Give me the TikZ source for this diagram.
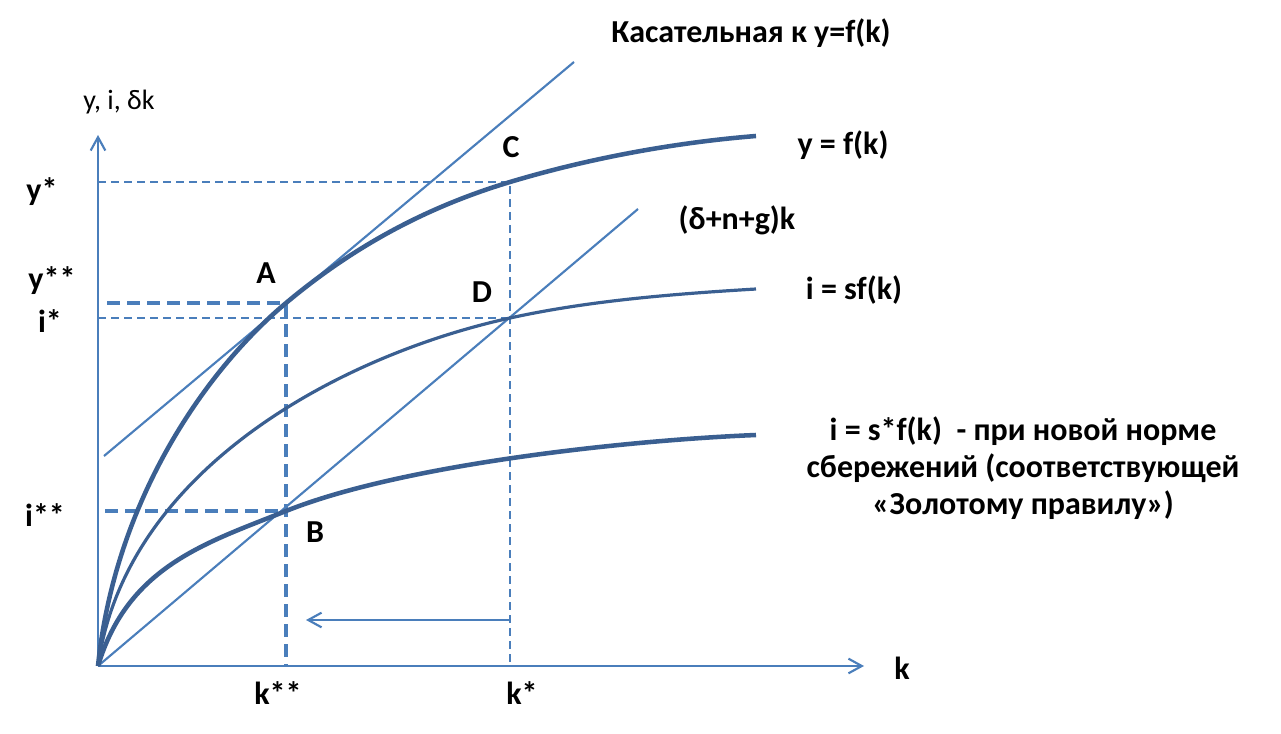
\documentclass[tikz,border=0pt]{standalone}
\usepackage{fontspec}
\setmainfont{Carlito}
\usetikzlibrary{arrows.meta}
\definecolor{axisblue}{RGB}{74,126,187}
\definecolor{curveblue}{RGB}{58,95,145}

\begin{document}
\begin{tikzpicture}[x=0.75pt, y=-0.75pt,
  lbl/.style={font=\fontsize{24}{27.5}\selectfont\bfseries, inner sep=0pt},
  thinline/.style={axisblue, line width=1.6pt},
  gridthin/.style={axisblue, line width=1.3pt, dash pattern=on 6pt off 3.75pt},
  gridthick/.style={axisblue, line width=2.6pt, dash pattern=on 10pt off 5pt},
  barb/.style={-{Straight Barb[length=10pt, width=11pt]}}]
\useasboundingbox (0,0) rectangle (1281,734);
\coordinate (O) at (98,666);
\coordinate (A) at (286,303);
\coordinate (B) at (286,511);
\coordinate (C) at (510,182);
\coordinate (D) at (510,318);
\draw[gridthin] (98,182) -- (C) -- (510,666);
\draw[gridthin] (98,318) -- (D);
\draw[gridthick] (107,303) -- (A) -- (286,666);
\draw[gridthick] (105,511) -- (B);
\draw[thinline, barb] (O) -- (98,135);
\draw[thinline, barb] (O) -- (864,666);
\draw[thinline, barb] (510,620) -- (306,620);
\draw[thinline] (104,456) -- (574,62);
\draw[thinline] (O) -- (638,209);
\draw[curveblue, line width=3.4pt] (O) .. controls (115,500) and (206,370) .. (A) .. controls (356,244.3) and (430,206) .. (C) .. controls (590,158) and (676,142.4) .. (756,136);
\draw[curveblue, line width=2.4pt] (O) .. controls (125,470) and (340,355.4) .. (D) .. controls (590,300.4) and (676,293.8) .. (756,289);
\draw[curveblue, line width=3.4pt] (O) .. controls (128,566) and (206,543) .. (B) .. controls (406,463) and (636,439.8) .. (756,435);
\node[font=\fontsize{21}{24}\selectfont, inner sep=0pt] (yaxis) at (119,102) {y, i, δk};
\node[lbl] (kaxis) at (902,668) {k};
\node[lbl] (ystar) at (42,192) {y*};
\node[lbl] (ystarstar) at (52,281) {y**};
\node[lbl] (istar) at (50,321) {i*};
\node[lbl] (istarstar) at (45,515) {i**};
\node[lbl] (kstarstar) at (278,693) {k**};
\node[lbl] (kstar) at (522,693) {k*};
\node[lbl] (Alab) at (266,273) {A};
\node[lbl] (Blab) at (315,532) {B};
\node[lbl] (Clab) at (511,147) {C};
\node[lbl] (Dlab) at (482,292) {D};
\node[lbl] (tangent) at (751,33) {Касательная к y=f(k)};
\node[lbl] (fk) at (843,145) {y = f(k)};
\node[lbl] (depr) at (737,220) {(δ+n+g)k};
\node[lbl] (sfk) at (854,290) {i = sf(k)};
\node[lbl, align=center] (golden) at (1023,468) {i = s*f(k)\ \ - при новой норме\\сбережений (соответствующей\\«Золотому правилу»)};
\end{tikzpicture}
\end{document}
